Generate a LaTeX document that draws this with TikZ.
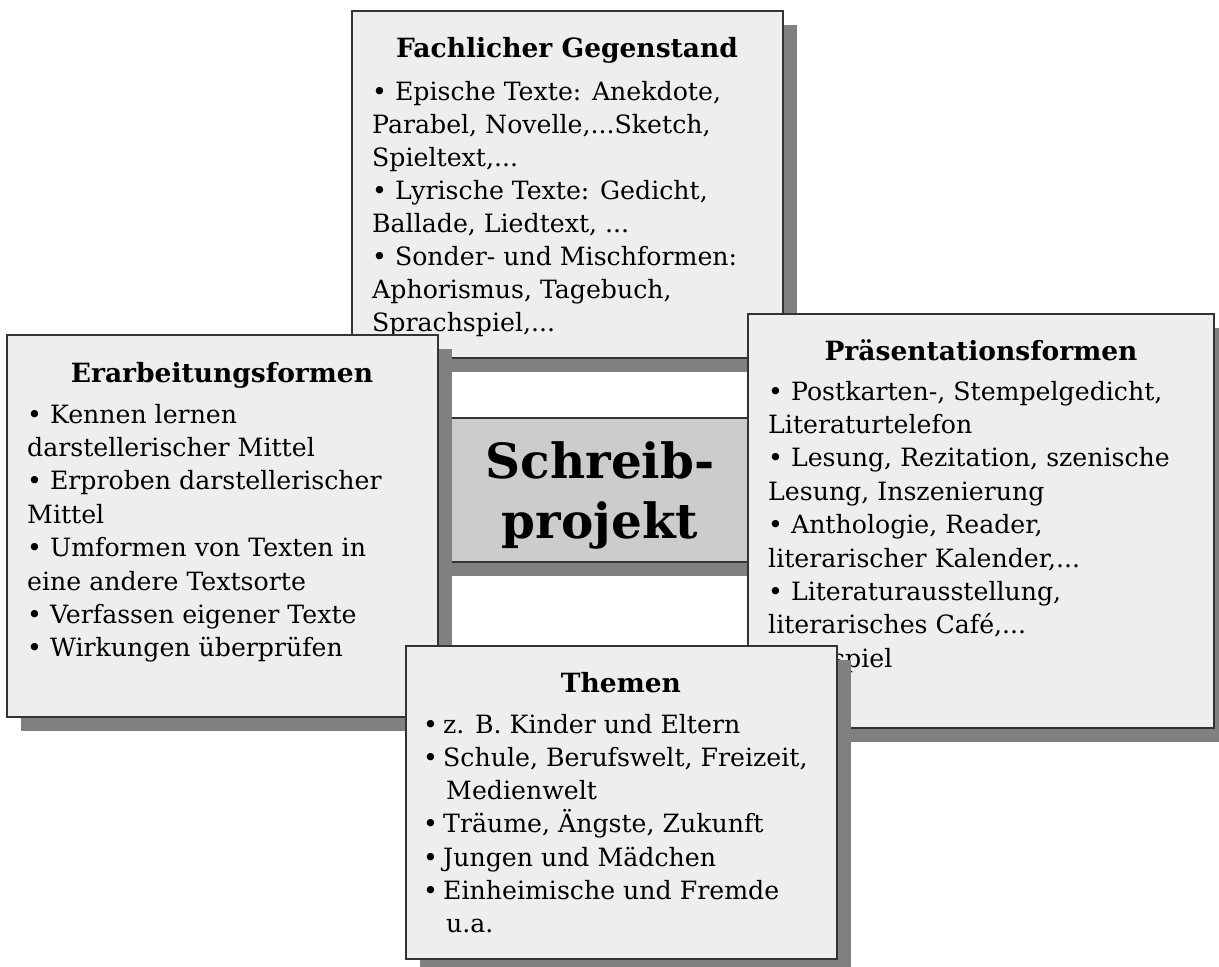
\documentclass[tikz,border=0pt]{standalone}
\usepackage{fontspec}
\setmainfont{DejaVu Serif}
\definecolor{boxfill}{HTML}{EEEEEE}
\definecolor{centerfill}{HTML}{CCCCCC}
\definecolor{shadowgray}{HTML}{808080}
\definecolor{boxline}{HTML}{333333}
\newcommand\bodyfnt{\fontsize{25.2}{30}\selectfont}
\newcommand\titlefnt{\bfseries\fontsize{26.5}{30}\selectfont}
\newcommand\centerfnt{\bfseries\fontsize{48.5}{56}\selectfont}
\newcommand\ddd{...}
\begin{document}
\begin{tikzpicture}[x=1pt,y=-1pt,
  panel/.style={draw=boxline, line width=1.2pt, fill=boxfill},
  centerpanel/.style={draw=boxline, line width=1.2pt, fill=centerfill},
  shade/.style={fill=shadowgray},
  ln/.style={anchor=base west, inner sep=0pt, font=\bodyfnt},
  ttl/.style={anchor=base, inner sep=0pt, font=\titlefnt},
  big/.style={anchor=base, inner sep=0pt, font=\centerfnt}]
\useasboundingbox (0,0) rectangle (1219,967);

% top box
\fill[shade] (366,25) rectangle (797,372);
\filldraw[panel] (352,11) rectangle (783,358);
\node[ttl] (toptitle) at (567,57) {Fachlicher Gegenstand};
\foreach \t [count=\i from 0] in {%
  {• Epische Texte: Anekdote,},
  {Parabel, Novelle,\ddd Sketch,},
  {Spieltext,\ddd},
  {• Lyrische Texte: Gedicht,},
  {Ballade, Liedtext, \ddd},
  {• Sonder- und Mischformen:},
  {Aphorismus, Tagebuch,},
  {Sprachspiel,\ddd}}
  \node[ln] (top\i) at (372,{100+33*\i}) {\t};

% center box
\fill[shade] (434,432) rectangle (794,576);
\filldraw[centerpanel] (420,418) rectangle (780,562);
\node[big] (c1) at (600,478) {Schreib-};
\node[big] (c2) at (600,538) {projekt};

% left box
\fill[shade] (21,349) rectangle (452,731);
\filldraw[panel] (7,335) rectangle (438,717);
\node[ttl] (lefttitle) at (222,382) {Erarbeitungsformen};
\foreach \t [count=\i from 0] in {%
  {• Kennen lernen},
  {darstellerischer Mittel},
  {• Erproben darstellerischer},
  {Mittel},
  {• Umformen von Texten in},
  {eine andere Textsorte},
  {• Verfassen eigener Texte},
  {• Wirkungen überprüfen}}
  \node[ln] (left\i) at (27,{423+33.4*\i}) {\t};

% right box
\fill[shade] (762,328) rectangle (1228,742);
\filldraw[panel] (748,314) rectangle (1214,728);
\node[ttl] (righttitle) at (981,360) {Präsentationsformen};
\foreach \t [count=\i from 0] in {%
  {• Postkarten-, Stempelgedicht,},
  {Literaturtelefon},
  {• Lesung, Rezitation, szenische},
  {Lesung, Inszenierung},
  {• Anthologie, Reader,},
  {literarischer Kalender,\ddd},
  {• Literaturausstellung,},
  {literarisches Café,\ddd}}
  \node[ln] (right\i) at (768,{400+33.4*\i}) {\t};
\node[ln] (right8) at (768,667) {•\hspace{0pt}Hörspiel};

% bottom box
\fill[shade] (420,660) rectangle (851,973);
\filldraw[panel] (406,646) rectangle (837,959);
\node[ttl] (bottitle) at (621,692) {Themen};
\foreach \t [count=\i from 0] in {%
  {z. B. Kinder und Eltern},
  {Schule, Berufswelt, Freizeit,},
  {Medienwelt},
  {Träume, Ängste, Zukunft},
  {Jungen und Mädchen},
  {Einheimische und Fremde},
  {u.a.}}
  \node[ln] (bot\i) at ({\i==2 || \i==6 ? 446 : 443},{733+33.3*\i}) {\t};
\foreach \i in {0,1,3,4,5}
  \node[ln] (bul\i) at (423,{733+33.3*\i}) {•};
\end{tikzpicture}
\end{document}
